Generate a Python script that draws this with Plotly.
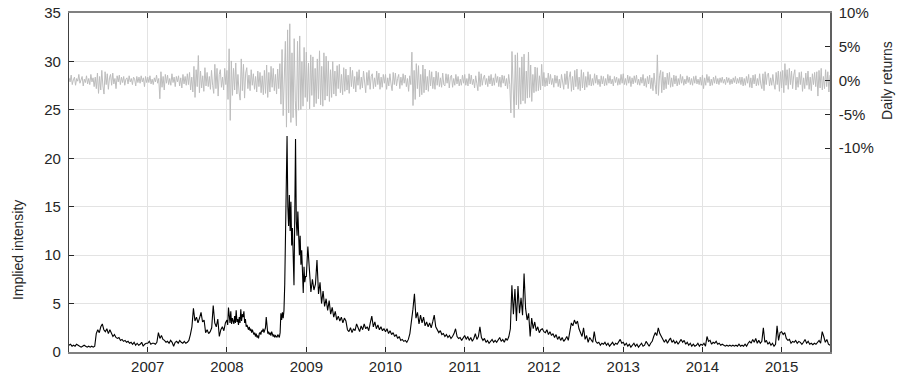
import pandas as pd
import plotly.graph_objects as go

# ---------------- data ----------------
start_date = "2006-01-03"
end_date = "2015-08-12"
years = [2006, 2007, 2008, 2009, 2010, 2011, 2012, 2013, 2014, 2015]

# Implied intensity, roughly weekly readings per year (2008 semi-weekly)
intensity = {
    2006: [0.7, 0.8, 0.6, 0.7, 0.6, 0.8, 0.7, 0.6, 0.5, 0.6, 0.7, 0.6, 0.5, 0.6, 0.5, 0.6, 0.5,
           0.6, 1.9, 2.3, 2.0, 2.6, 2.9, 2.3, 2.1, 2.4, 1.9, 2.3, 2.0, 1.6, 1.8, 1.5, 1.4, 1.5,
           1.2, 1.3, 1.1, 1.2, 1.0, 1.1, 0.9, 1.0, 0.8, 1.0, 0.7, 0.9, 0.7, 0.8, 1.0, 0.6, 0.8, 0.9],
    2007: [0.9, 1.1, 0.8, 0.9, 0.9, 0.8, 1.0, 2.0, 1.4, 1.7, 1.3, 1.2, 1.0, 1.1, 0.9, 1.2, 1.0,
           0.6, 1.0, 1.1, 0.9, 1.2, 1.0, 0.9, 1.1, 0.9, 1.0, 1.2, 1.8, 2.6, 4.5, 3.2, 3.6, 3.0,
           3.5, 4.1, 3.1, 3.3, 2.0, 2.3, 1.9, 2.1, 2.5, 4.8, 3.0, 2.6, 3.4, 1.6, 2.3, 2.6, 2.2, 3.0],
    2008: [3.3, 2.8, 4.6, 3.5, 3.0, 4.2, 2.9, 3.5, 3.2,
           2.9, 3.7, 3.0, 4.3, 3.1, 3.4, 2.8, 3.6,
           3.0, 4.4, 3.2, 3.9, 3.6, 4.2, 3.0, 3.4, 2.6,
           2.8, 2.5, 2.3, 2.6, 2.2, 2.4, 2.0, 2.3,
           2.1, 1.8, 2.0, 1.6, 1.9, 1.5, 1.7, 1.4, 1.9,
           2.0, 1.8, 2.2, 2.1, 2.4, 2.0, 2.3, 2.5,
           3.6, 2.2, 1.9, 2.1, 1.8, 2.0, 1.7, 2.1, 1.9,
           1.6, 1.8, 1.5, 1.7, 1.6, 1.5, 1.8, 1.6, 1.5,
           2.0, 4.0, 3.3, 4.1, 3.5, 4.3, 7.0, 11.5,
           16.0, 22.3, 15.0, 13.0, 16.2, 12.5, 15.5, 11.0, 12.8,
           10.5, 6.9, 14.0, 22.0, 13.5, 12.0, 14.5, 12.3,
           10.0, 12.0, 9.0, 10.5, 8.2, 6.1, 8.8, 7.2, 7.8],
    2009: [7.8, 10.9, 8.0, 6.2, 7.5, 6.4, 7.0, 9.5, 6.0, 7.2, 5.0, 6.3, 4.7, 5.5, 4.3, 5.3, 3.9,
           4.6, 3.6, 4.2, 3.3, 3.7, 3.2, 3.6, 3.0, 3.5, 3.2, 2.3, 2.1, 2.5, 2.0, 2.4, 2.2, 2.9,
           2.5, 2.1, 2.7, 2.3, 2.9, 2.4, 2.6, 2.2, 3.0, 3.7, 2.6, 3.1, 2.4, 2.8, 2.3, 2.6, 2.2, 2.4],
    2010: [2.1, 2.4, 1.9, 2.2, 1.8, 2.0, 1.6, 1.8, 1.4, 1.6, 1.2, 1.3, 1.1, 1.2, 1.0, 1.3, 1.9,
           3.0, 4.4, 6.0, 3.5, 4.1, 2.9, 3.8, 3.0, 3.6, 2.7, 3.1, 2.6, 3.0, 2.5, 3.1, 3.8, 2.6,
           2.2, 2.0, 2.2, 1.8, 1.9, 1.6, 1.8, 1.5, 1.7, 1.4, 1.6, 1.9, 2.4, 1.6, 1.4, 1.5, 1.2, 1.4],
    2011: [1.7, 1.3, 1.6, 1.2, 1.5, 1.1, 1.4, 1.9, 1.3, 1.6, 2.6, 1.5, 1.2, 1.4, 1.0, 1.2, 0.9,
           1.1, 1.3, 1.0, 1.2, 1.0, 1.3, 1.5, 1.1, 1.3, 1.0, 1.4, 1.2, 1.6, 2.4, 6.9, 3.9, 6.5,
           3.2, 6.8, 4.0, 5.6, 3.8, 8.1, 4.5, 3.3, 4.0, 1.6, 3.5, 2.4, 3.1, 2.2, 2.6, 2.0, 2.3, 2.4],
    2012: [2.1, 2.0, 2.3, 1.8, 2.1, 1.7, 1.9, 1.5, 1.8, 1.3, 1.6, 1.2, 1.5, 1.1, 1.3, 1.6, 1.2,
           2.1, 3.0, 2.7, 3.3, 2.9, 3.2, 2.4, 2.0, 1.6, 2.5, 1.3, 1.7, 1.0, 1.5, 1.2, 1.0, 2.1,
           1.1, 0.9, 1.0, 0.7, 0.9, 0.8, 1.0, 0.7, 0.9, 0.6, 0.8, 1.0, 0.7, 0.9, 0.8, 1.0, 1.3, 0.9],
    2013: [1.0, 0.7, 0.9, 0.6, 0.8, 0.5, 0.7, 0.9, 0.6, 0.8, 0.5, 0.7, 0.9, 0.6, 0.7, 1.1, 0.8,
           0.6, 0.9, 1.1, 1.6, 2.0, 1.7, 2.5, 1.9, 1.6, 1.3, 1.0, 1.3, 0.9, 1.2, 1.45, 1.0, 1.2,
           0.9, 1.1, 0.8, 1.0, 1.3, 1.0, 1.2, 0.8, 1.0, 0.7, 0.9, 0.6, 0.8, 0.6, 0.7, 0.9, 0.6, 0.8],
    2014: [0.7, 0.9, 0.6, 1.6, 1.1, 1.2, 0.8, 1.0, 0.9, 1.1, 0.8, 0.9, 0.7, 0.8, 0.7, 0.6, 0.7,
           0.6, 0.7, 0.6, 0.7, 0.6, 0.7, 0.6, 0.8, 0.6, 0.7, 0.6, 0.8, 0.6, 0.9, 1.1, 0.9, 1.3,
           1.0, 1.4, 0.9, 1.2, 0.9, 1.1, 2.5, 1.0, 1.2, 0.8, 1.0, 0.7, 0.9, 0.6, 0.8, 2.7, 1.2, 2.0],
    2015: [2.1, 1.8, 2.0, 1.4, 1.2, 1.3, 0.9, 1.1, 1.0, 1.2, 0.9, 1.1, 1.0, 0.8, 1.0, 1.3, 0.9,
           1.1, 0.8, 0.9, 0.75, 0.9, 0.8, 1.0, 1.2, 0.9, 2.1, 1.6, 1.0, 1.3, 0.8, 0.7],
}

# Daily returns (%), readings of the swings, six per month
returns_pct = {
    2006: [0.4, -0.2, 0.8, -0.6, 0.1, 0.5, -0.7, 0.3, -0.1, 0.9, -0.4, 0.2,
           0.6, -0.8, 0.2, -0.3, 0.7, -0.5, 0.3, -0.6, 0.9, -0.2, 0.4, -0.9,
           0.5, -1.2, 1.1, -1.9, 0.6, -1.4, 1.5, -0.8, -2.0, 1.3, -0.6, 1.0,
           -1.3, 0.4, 0.9, -0.7, 1.1, -0.5, 0.3, -1.2, 0.7, -0.2, 0.8, -0.6,
           0.5, -0.3, 0.6, -0.7, 0.2, 0.4, -0.5, 0.7, -0.2, 0.3, -0.6, 0.5,
           0.2, -0.8, 0.6, -0.3, 0.5, -0.4, 0.7, -0.2, 0.4, -0.9, 0.6, -0.3],
    2007: [0.5, -0.3, 0.7, -0.5, 0.2, -0.6, 0.4, -0.2, 0.8, -0.4, 0.3, -2.7,
           1.3, -1.0, 0.6, -1.4, 0.9, -0.4, 0.8, -0.6, 0.3, -0.7, 1.0, -0.3,
           0.5, -0.9, 0.6, -0.2, 0.7, -0.8, 0.4, -1.1, 0.9, -0.5, 0.6, -0.7,
           1.0, -0.6, 1.2, -1.4, 0.5, -1.7, 2.1, -2.5, 1.6, -0.9, 3.7, -1.8,
           1.4, -1.1, 0.7, -1.6, 1.9, -0.8, 1.2, -0.9, 0.6, -1.3, 1.5, -0.7,
           -1.9, 2.4, -1.2, 1.8, -2.3, 0.9, 1.6, -1.0, 0.5, -1.4, 1.8, -0.6],
    2008: [1.5, -2.8, 4.7, -5.9, 2.9, -2.2, 1.8, -1.4, 2.6, -2.0, 0.9, -1.7,
           -2.9, 3.2, -1.5, 2.4, -2.6, 1.1, 1.9, -1.2, 0.8, -1.5, 1.6, -0.7,
           1.0, -1.3, 0.6, -1.7, 1.4, -0.9, 1.2, -1.8, 0.7, -2.1, 1.5, -1.9,
           2.3, -2.5, 1.2, -1.7, 2.1, -1.0, 1.8, -1.5, 0.9, -2.0, 1.7, -1.2,
           2.5, -3.5, 4.6, -5.2, 3.0, 5.8, -6.9, 7.5, -4.8, 8.4, -6.2, 4.1,
           -5.5, 6.2, -3.0, -6.7, 5.8, -4.4, 6.6, -4.3, 2.8, -3.8, 4.9, -2.5],
    2009: [4.2, -3.1, 2.6, -4.2, 3.8, -2.2, 3.5, -3.9, 1.8, -3.4, 3.2, -2.7,
           4.4, -3.6, 2.1, -3.8, 4.1, -2.9, 3.6, -2.3, 2.9, -3.1, 1.6, -2.5,
           2.8, -2.0, 1.4, -2.3, 2.2, -1.2, 2.4, -1.8, 0.9, -2.1, 1.9, -1.6,
           1.7, -1.4, 0.8, -1.9, 2.0, -0.9, 1.5, -1.2, 0.6, -1.7, 1.3, -0.7,
           1.6, -1.3, 0.5, -1.1, 1.4, -0.8, -1.8, 1.2, -0.7, 1.5, -1.3, 0.6,
           1.0, -1.2, 0.4, -0.9, 1.4, -0.6, 1.1, -1.3, 0.5, -1.0, 0.9, -0.4],
    2010: [0.9, -1.3, 0.4, -0.8, 1.0, -0.5, -1.5, 1.2, -0.6, 1.1, -0.8, 0.3,
           0.9, -1.2, 0.5, -0.7, 1.0, -0.4, 0.8, -0.9, 0.3, -1.6, 0.7, -0.6,
           4.2, -3.7, 1.5, -2.8, 2.5, -1.2, 2.2, -2.4, 0.9, -2.1, 2.3, -1.8,
           1.7, -1.4, 0.6, -1.6, 1.5, -0.8, 1.3, -1.2, 0.5, -1.3, 1.4, -0.7,
           1.2, -0.9, 0.4, -1.0, 1.1, -0.6, -0.8, 1.0, -0.4, 0.9, -1.1, 0.5,
           0.8, -1.0, 0.3, -0.7, 0.9, -0.5, 0.6, -0.8, 0.2, -0.7, 0.8, -0.4],
    2011: [0.9, -0.7, 0.3, -0.8, 1.0, -0.5, 0.8, -0.6, 0.2, -1.1, 0.7, -0.4,
           -1.5, 1.3, -0.9, 1.0, -0.7, 0.4, 0.8, -0.6, 0.3, -0.9, 0.7, -0.5,
           0.9, -0.8, 0.4, -0.7, 1.0, -0.3, 0.6, -0.9, 0.5, -1.0, 0.8, -0.4,
           0.7, -0.8, 0.3, -1.2, 0.9, -0.6, -4.8, 4.3, -2.1, -5.5, 3.8, -3.6,
           4.1, -4.2, 1.9, -3.5, 3.5, -3.0, 3.9, -3.4, 1.4, -2.6, 4.2, -2.5,
           2.3, -3.1, 0.9, -1.8, 2.0, -1.6, 1.9, -1.5, 0.7, -1.4, 2.4, -0.8],
    2012: [1.2, -0.9, 0.4, -0.8, 1.1, -0.5, 0.9, -0.6, 0.3, -1.0, 0.8, -0.4,
           0.7, -0.9, 0.2, -1.1, 0.9, -0.5, -1.3, 1.0, -0.6, 1.4, -1.2, 0.5,
           1.3, -1.6, 0.6, -1.4, 1.5, -0.9, 1.7, -1.3, 0.5, -1.5, 1.6, -1.1,
           1.2, -1.4, 0.6, -1.0, 1.3, -0.7, 0.9, -0.8, 0.3, -0.7, 1.0, -0.4,
           0.8, -0.6, 0.2, -0.9, 0.7, -0.5, 0.6, -0.8, 0.3, -0.7, 0.9, -0.4,
           0.7, -0.5, 0.2, -0.8, 0.6, -0.3, 0.5, -0.7, 0.3, -0.6, 0.9, -0.4],
    2013: [1.0, -0.6, 0.3, -0.7, 0.8, -0.4, 0.6, -0.9, 0.4, -0.5, 0.7, -0.3,
           0.8, -0.6, 0.2, -0.7, 0.5, -0.4, 0.9, -0.8, 0.3, -1.0, 0.6, -0.5,
           0.8, -1.2, 0.4, -1.5, 1.1, -0.6, -2.0, 3.8, -2.2, 0.7, 1.5, -1.8,
           1.3, -1.4, 0.5, -1.2, 1.1, -0.6, 1.2, -1.0, 0.4, -0.9, 0.8, -0.5,
           0.7, -0.8, 0.3, -0.6, 0.9, -0.4, 0.6, -0.7, 0.2, -0.5, 0.7, -0.3,
           0.5, -0.6, 0.3, -0.7, 0.6, -0.4, 0.7, -0.5, 0.2, -0.6, 0.5, -0.7],
    2014: [0.8, -1.2, 0.4, -0.7, 0.9, -0.3, 0.6, -0.8, 0.2, -0.7, 0.5, -0.4,
           0.7, -0.5, 0.3, -0.6, 0.4, -0.3, 0.5, -0.4, 0.2, -0.6, 0.5, -0.3,
           0.4, -0.6, 0.2, -0.5, 0.4, -0.3, 0.6, -0.5, 0.3, -0.4, 0.5, -0.6,
           0.5, -0.8, 0.3, -0.7, 0.6, -0.4, 0.9, -1.0, 0.4, -1.1, 0.8, -0.5,
           0.9, -0.8, 0.3, -0.7, 1.0, -0.5, -1.2, 1.0, -1.5, 1.3, -0.6, 0.9,
           1.1, -0.8, 0.4, -0.7, 0.9, -0.5, -1.3, 1.2, -0.6, 1.4, -1.6, 1.3],
    2015: [-1.1, 1.5, -1.8, 2.5, -0.7, 1.6, -1.3, 1.8, -0.6, 1.4, -1.2, 0.8,
           1.6, -1.4, 0.5, -1.0, 1.2, -0.6, 1.3, -1.6, 0.4, -1.2, 1.1, -0.7,
           1.4, -1.3, 0.5, -1.5, 1.0, -0.6, 1.2, -0.9, 1.3, -2.3, 1.5, -1.1,
           1.8, -1.4, 0.6, -1.2, 1.6, -0.9, 1.3, -1.7, 0.8],
}

year_ticks = [str(y) for y in range(2007, 2016)]
left_ticks = [0, 5, 10, 15, 20, 25, 30, 35]
right_tickvals = [0.10, 0.05, 0.0, -0.05, -0.10]
right_ticktext = ["10%", "5%", "0%", "-5%", "-10%"]


def spread(series):
    """Place each year's readings evenly over that year (clipped to the data span)."""
    t0, t1 = pd.Timestamp(start_date), pd.Timestamp(end_date)
    xs, ys = [], []
    for y in years:
        vals = series[y]
        a = max(pd.Timestamp(f"{y}-01-01"), t0)
        b = min(pd.Timestamp(f"{y + 1}-01-01"), t1)
        n = len(vals)
        last = (y == years[-1])
        for i, v in enumerate(vals):
            frac = i / (n - 1) if last else i / n
            xs.append(a + (b - a) * frac)
            ys.append(v)
    return xs, ys


ix, iy = spread(intensity)
rx, ry = spread(returns_pct)
ry = [v / 100.0 for v in ry]

font_main = "Liberation Sans, Arial, Helvetica, sans-serif"

fig = go.Figure()
fig.add_trace(go.Scatter(x=rx, y=ry, yaxis="y2", mode="lines",
                         line=dict(color="#bdbdbd", width=1), showlegend=False,
                         hoverinfo="skip"))
fig.add_trace(go.Scatter(x=ix, y=iy, mode="lines",
                         line=dict(color="#000000", width=1.1), showlegend=False))

fig.update_layout(
    width=901, height=380,
    margin=dict(l=69, r=71, t=13, b=28, pad=0),
    paper_bgcolor="white", plot_bgcolor="white",
    font=dict(family=font_main, size=15, color="#262626"),
    xaxis=dict(
        type="date", automargin=False,
        range=[start_date, end_date],
        tickvals=[f"{y}-01-01" for y in year_ticks],
        ticktext=year_ticks,
        ticks="inside", ticklen=5, tickcolor="#262626",
        showline=True, linecolor="#808080", linewidth=1.5, mirror="ticks",
        showgrid=True, gridcolor="#e3e3e3", gridwidth=1,
        zeroline=False,
    ),
    yaxis=dict(
        range=[0, 35], automargin=False,
        tickvals=left_ticks,
        ticks="inside", ticklen=5, tickcolor="#262626",
        showline=True, linecolor="#404040", linewidth=1.2,
        showgrid=True, gridcolor="#e3e3e3", gridwidth=1,
        zeroline=False,
        ticklabelstandoff=4,
    ),
    yaxis2=dict(
        overlaying="y", side="right", automargin=False,
        range=[-0.402, 0.10],
        tickvals=right_tickvals, ticktext=right_ticktext,
        ticks="inside", ticklen=5, tickcolor="#262626",
        showline=True, linecolor="#606060", linewidth=1.5,
        showgrid=False, zeroline=False,
        ticklabelstandoff=4,
    ),
    annotations=[
        dict(text="Implied intensity", xref="paper", yref="paper",
             x=-0.066, y=0.30, textangle=-90, showarrow=False,
             font=dict(family=font_main, size=14, color="#262626"),
             xanchor="center", yanchor="middle"),
        dict(text="Daily returns", xref="paper", yref="paper",
             x=1.075, y=0.80, textangle=-90, showarrow=False,
             font=dict(family=font_main, size=14, color="#262626"),
             xanchor="center", yanchor="middle"),
    ],
)

# remove the default page margin so the figure sits at the window's corner
fig.write_html("out.html",
               config={"displayModeBar": False},
               post_script="document.body.style.margin='0';document.body.style.overflow='hidden';")
